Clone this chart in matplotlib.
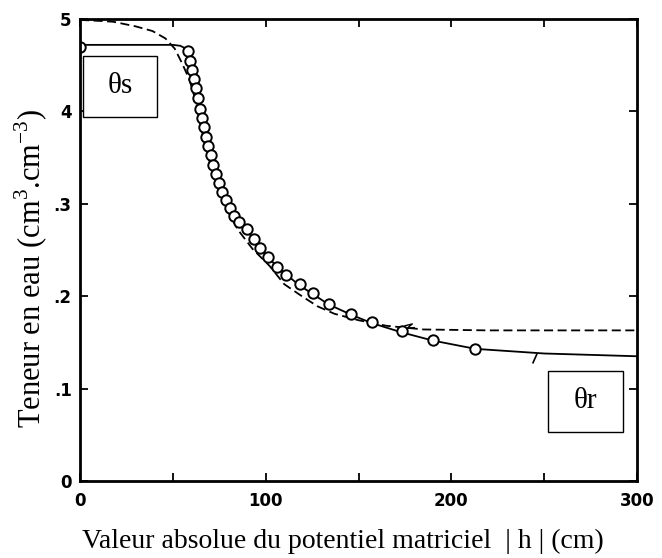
import numpy as np
import matplotlib
matplotlib.use("Agg")
import matplotlib.pyplot as plt
from matplotlib.patches import Rectangle


# Measured points (|h| in cm, water content in cm3.cm-3).
h_points = [0, 57.9, 59.1, 60.5, 61.6, 62.7, 63.8, 64.6, 65.5, 66.8, 67.9, 69.1, 70.4,
            71.8, 73.4, 74.8, 76.6, 78.4, 80.7, 83.2, 85.5, 90.0, 93.6, 97.1, 101.3,
            106.1, 110.9, 118.6, 125.4, 134.3, 145.7, 157.5, 173.4, 190.3, 212.7]
theta_points = [0.470, 0.465, 0.455, 0.445, 0.435, 0.425, 0.414, 0.403, 0.393, 0.383,
                0.372, 0.363, 0.353, 0.342, 0.332, 0.323, 0.313, 0.304, 0.295, 0.287,
                0.280, 0.273, 0.262, 0.252, 0.242, 0.232, 0.223, 0.213, 0.203, 0.192,
                0.181, 0.172, 0.162, 0.1525, 0.1424]

# Fitted curve (solid line).
h_solid = [0, 30, 50, 54, 56, 58, 60, 62, 65, 68, 72, 77, 83, 90, 97, 106, 118, 134,
           146, 157, 173, 190, 213, 250, 300]
theta_solid = [0.472, 0.472, 0.472, 0.471, 0.469, 0.463, 0.447, 0.428, 0.401, 0.371,
               0.340, 0.311, 0.287, 0.271, 0.252, 0.232, 0.212, 0.191, 0.180, 0.171,
               0.161, 0.152, 0.143, 0.138, 0.135]

# Second curve (dashed line).
h_dash = [0, 10, 18, 30, 39, 46, 51, 55, 59, 62.5, 65.5, 70.5, 77.5, 85, 93, 102, 110,
          119.5, 128, 137, 150, 165, 185, 220, 300]
theta_dash = [0.499, 0.498, 0.497, 0.492, 0.487, 0.479, 0.468, 0.452, 0.434, 0.410,
              0.380, 0.340, 0.300, 0.272, 0.251, 0.233, 0.213, 0.200, 0.189, 0.181,
              0.174, 0.168, 0.164, 0.163, 0.163]

x_ticks = [0, 100, 200, 300]
x_minor = [50, 150, 250]
y_ticks = [0, 0.1, 0.2, 0.3, 0.4, 0.5]
y_tick_labels = ["0", ".1", ".2", ".3", "4", "5"]

plt.rcParams["mathtext.fontset"] = "custom"
plt.rcParams["mathtext.rm"] = "Liberation Serif"

fig = plt.figure(figsize=(6.62, 5.58), dpi=100)
ax = fig.add_axes([80 / 662, 1 - 481 / 558, (637 - 80) / 662, (481 - 19) / 558])

ax.plot(h_dash, theta_dash, color="black", linestyle=(0, (5, 2.5)), linewidth=1.3)
ax.plot(h_solid, theta_solid, color="black", linewidth=1.3)
ax.plot(h_points, theta_points, linestyle="none", marker="o", markersize=7.5,
        markerfacecolor="white", markeredgecolor="black", markeredgewidth=1.4)

# Small leader marks on the curves.
ax.plot([175, 179, 176, 180], [0.168, 0.170, 0.165, 0.166], color="black", linewidth=1)
ax.plot([246, 244], [0.137, 0.128], color="black", linewidth=1.2)

ax.set_xlim(0, 300)
ax.set_ylim(0, 0.5)
ax.set_xticks(x_ticks)
ax.set_xticks(x_minor, minor=True)
ax.set_yticks(y_ticks)
ax.set_yticklabels(y_tick_labels)

ax.tick_params(axis="both", which="both", direction="in", top=True, right=True,
               length=6, width=1.3, labelsize=12)
ax.tick_params(axis="x", pad=8)
ax.tick_params(axis="y", pad=6)
for lab in ax.get_xticklabels() + ax.get_yticklabels():
    lab.set_fontweight("bold")
for sp in ax.spines.values():
    sp.set_linewidth(2)

serif = ["Liberation Serif", "DejaVu Serif"]
fig.text(343 / 662, 1 - 541 / 558, "Valeur absolue du potentiel matriciel  | h | (cm)",
         ha="center", va="center", fontsize=20, family=serif)
fig.text(31 / 662, 1 - 268 / 558, "Teneur en eau (cm$^{3}$.cm$^{-3}$)", rotation=90,
         ha="center", va="center", fontsize=22, family=serif)

# Boxes for theta_s and theta_r.
for (x0, y0, x1, y1, txt) in [(83, 56, 157, 117, "\u03b8s"), (548, 371, 623, 432, "\u03b8r")]:
    fig.add_artist(Rectangle((x0 / 662, 1 - y1 / 558), (x1 - x0) / 662, (y1 - y0) / 558,
                             transform=fig.transFigure, facecolor="white",
                             edgecolor="black", linewidth=1))
    fig.text((x0 + x1) / 2 / 662, 1 - (y0 + y1) / 2 / 558, txt, ha="center", va="center",
             fontsize=21, family=serif)

fig.savefig("out.png", dpi=100)
